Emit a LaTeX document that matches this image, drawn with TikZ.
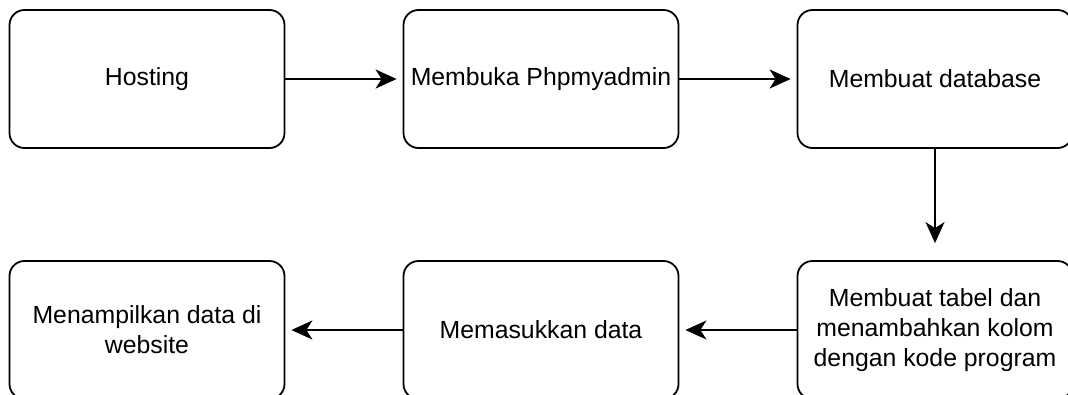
\documentclass[tikz,border=0pt]{standalone}
\usepackage{fontspec}
\setmainfont{Liberation Sans}
\usetikzlibrary{arrows.meta, automata, positioning}

\begin{document}
\begin{tikzpicture}[
            x=1pt, y=-1pt,
            on grid,
            node distance = 251pt and 394pt,
            line width=1.8pt
        ]

        \tikzstyle{every state}=[
            draw,
            shape=rectangle,
            rounded corners=15pt,
            fill=white,
            minimum width=275pt,
            minimum height=138pt,
            align=center,
            font=\fontsize{24.8}{30}\selectfont
        ]
        \tikzstyle{flow}=[-{Stealth[length=21pt,width=19pt,inset=6pt]}, shorten >=6pt]

        \useasboundingbox (0,0) rectangle (1068,394);

        % top row, left to right
        \node[state] (host) at (147,79) {Hosting};
        \node[state] (pma) [right=of host] {Membuka Phpmyadmin};
        \node[state] (db) [right=of pma] {Membuat database};
        % bottom row, right to left
        \node[state] (tbl) [below=of db] {Membuat tabel dan\\menambahkan kolom\\dengan kode program};
        \node[state] (ins) [left=of tbl] {Memasukkan data};
        \node[state] (web) [left=of ins] {Menampilkan data di\\website};

        \path[flow] (host) edge (pma);
        \path[flow] (pma) edge (db);
        \path[flow, shorten >=17pt] (db) edge (tbl);
        \path[flow] (tbl) edge (ins);
        \path[flow] (ins) edge (web);

    \end{tikzpicture}
\end{document}
